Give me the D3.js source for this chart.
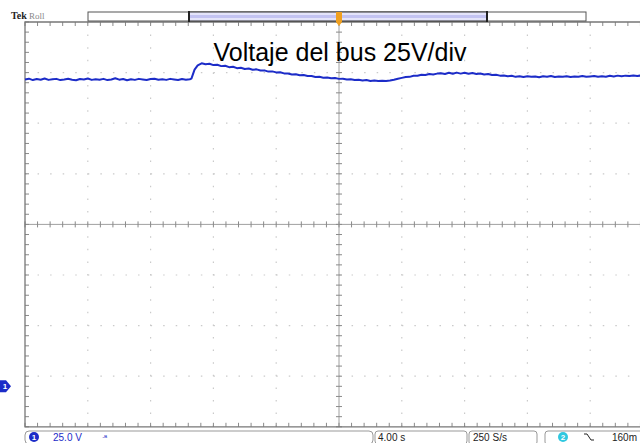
<!DOCTYPE html>
<html>
<head>
<meta charset="utf-8">
<script src="https://cdn.jsdelivr.net/npm/d3@7"></script>
<style>
body{margin:0;background:#fff;}
svg{display:block;}
.lbl{font-family:"Liberation Sans",Arial,sans-serif;}
</style>
</head>
<body>
<svg id="scope" width="640" height="443"></svg>
<script>
// datos (tiempo en s, voltaje en V)
var times = [
	0,0.25,0.5,0.75, 1,1.25,1.5,1.75, 2,2.25,2.5,2.75, 3,3.25,3.5,3.75, 4,4.25,4.5,4.75,
	5,5.25,5.5,5.75, 6,6.25,6.5,6.75, 7,7.25,7.5,7.75, 8,8.25,8.5,8.75, 9,9.25,9.5,9.75,
	10,10.25,10.5, 10.6,10.8,11,
	11.25,11.5,11.75, 12,12.25,12.5,12.75, 13,13.25,13.5,13.75, 14,14.25,14.5,14.75,
	15,15.25,15.5,15.75, 16,16.25,16.5,16.75, 17,17.25,17.5,17.75, 18,18.25,18.5,18.75,
	19,19.25,19.5,19.75, 20,20.25,20.5,20.75, 21,21.25,21.5,21.75, 22,22.25,22.5,22.75,
	23,23.25,23.5,23.75, 24,24.25,24.5,24.75, 25,25.25,25.5,25.75, 26,26.25,26.5,26.75,
	27,27.25,27.5,27.75, 28,28.25,28.5,28.75, 29,29.25,29.5,29.75, 30,30.25,30.5,30.75,
	31,31.25,31.5,31.75, 32,32.25,32.5,32.75, 33,33.25,33.5,33.75, 34,34.25,34.5,34.75,
	35,35.25,35.5,35.75, 36,36.25,36.5,36.75, 37,37.25,37.5,37.75, 38,38.25,38.5,38.75,
	39,39.25,39.5,39.75, 40];
var volts = [
	151.6,152.0,151.3,151.8, 151.5,152.1,151.4,151.7, 151.9,151.3,151.6,152.0, 151.5,151.2,151.8,151.6, 152.1,151.4,151.7,151.5,
	151.9,151.3,151.6,152.2, 151.5,151.8,151.2,151.7, 151.4,151.9,151.6,151.3, 151.8,152.0,151.5,151.7, 151.4,151.9,151.6,151.3,
	151.8,151.5,151.7, 152.0,156.5,158.6,
	159.6,159.1,159.4, 158.7,158.9,158.2,158.4, 157.7,157.9,157.2,157.4, 156.8,157.0,156.4,156.6,
	156.0,156.1,155.5,155.6, 155.1,155.2,154.6,154.6, 154.1,154.2,153.7,153.8, 153.3,153.3,152.8,152.9,
	152.5,152.6,152.2,152.3, 151.9,152.0,151.6,151.7, 151.3,151.5,151.1,151.3, 150.9,151.1,150.8,151.0,
	150.9,151.1,151.5,152.0, 152.4,152.8,152.9,153.4, 153.4,153.9,153.8,154.3, 154.1,154.5,154.7,154.3,
	154.9,154.4,155.0,154.5, 154.9,154.4,154.8,154.3, 154.6,154.1,154.3,153.8, 153.9,153.5,153.6,153.2,
	153.4,152.9,153.2,152.8, 153.2,152.9,153.1,152.7, 153.2,152.9,153.3,152.8, 153.1,152.9,153.2,152.8,
	153.1,152.9,153.3,152.9, 153.1,153.3,152.9,153.2, 153.0,153.4,153.1,153.5, 153.2,153.5,153.3,153.6,
	153.3,153.6,153.4,153.6, 153.4];
var title = "Voltaje del bus 25V/div";
var ch1Scale = "25.0 V";
var timeDiv = "4.00 s";
var sampleRate = "250 S/s";
var trigLevel = "160m";

var svg = d3.select("#scope");
var gx0 = 25, gy0 = 22, divW = 62.8, divH = 50.6;
var nx = 10, ny = 8;
var gx1 = gx0 + nx*divW, gy1 = gy0 + ny*divH;
var cx = gx0 + 5*divW, cy = gy0 + 4*divH;
var blue = "#1c2cc8";

var x = d3.scaleLinear().domain([0,40]).range([gx0,gx1]);
var y = d3.scaleLinear().domain([-20,180]).range([gy1,gy0]);

// rejilla punteada
var grid = svg.append("g");
d3.range(1,nx).forEach(function(i){
	if(i==5) return;
	grid.append("line").attr("x1",gx0+i*divW).attr("x2",gx0+i*divW).attr("y1",gy0).attr("y2",gy1)
	.attr("stroke","#cacaca").attr("stroke-width",1.2).attr("stroke-dasharray","1.5,11.1");
});
d3.range(1,ny).forEach(function(i){
	if(i==4) return;
	grid.append("line").attr("x1",gx0).attr("x2",gx1).attr("y1",gy0+i*divH).attr("y2",gy0+i*divH)
	.attr("stroke","#cacaca").attr("stroke-width",1.2).attr("stroke-dasharray","1.5,11.06");
});

// ejes centrales con marcas
grid.append("line").attr("x1",gx0).attr("x2",gx1).attr("y1",cy).attr("y2",cy).attr("stroke","#a0a0a0");
grid.append("line").attr("x1",cx).attr("x2",cx).attr("y1",gy0).attr("y2",gy1).attr("stroke","#a0a0a0");
d3.range(0,nx*5+1).forEach(function(i){
	var xx = gx0 + i*divW/5;
	grid.append("line").attr("x1",xx).attr("x2",xx).attr("y1",cy-3).attr("y2",cy+3).attr("stroke","#8a8a8a");
	grid.append("line").attr("x1",xx).attr("x2",xx).attr("y1",gy0).attr("y2",gy0+4).attr("stroke","#8a8a8a");
	grid.append("line").attr("x1",xx).attr("x2",xx).attr("y1",gy1-4).attr("y2",gy1).attr("stroke","#8a8a8a");
});
d3.range(0,ny*5+1).forEach(function(i){
	var yy = gy0 + i*divH/5;
	grid.append("line").attr("x1",cx-3).attr("x2",cx+3).attr("y1",yy).attr("y2",yy).attr("stroke","#8a8a8a");
	grid.append("line").attr("x1",gx0).attr("x2",gx0+4).attr("y1",yy).attr("y2",yy).attr("stroke","#8a8a8a");
});
// borde
grid.append("path").attr("d","M"+gx1+","+gy0+"H"+gx0+"V"+gy1+"H"+gx1)
	.attr("fill","none").attr("stroke","#777").attr("stroke-width",1.3);

// senal
var line = d3.line().x(function(d,i){return x(times[i]);}).y(function(d){return y(d);});
svg.append("path").attr("d",line(volts)).attr("fill","none").attr("stroke",blue)
	.attr("stroke-width",2).attr("stroke-linejoin","round");

// marcador de tierra ch1
var gy = y(0);
svg.append("path").attr("d","M0,"+(gy-6)+"H6L11,"+gy+"L6,"+(gy+6)+"H0Z").attr("fill",blue);
svg.append("text").attr("class","lbl").attr("x",5).attr("y",gy+3).attr("text-anchor","middle")
	.attr("font-size",8).attr("font-weight","bold").attr("fill","#fff").text("1");

// cabecera
svg.append("text").attr("x",11).attr("y",19).attr("font-family","Liberation Serif,serif")
	.attr("font-weight","bold").attr("font-size",10).attr("fill","#222").text("Tek");
svg.append("text").attr("x",29).attr("y",19).attr("font-family","Liberation Serif,serif")
	.attr("font-size",9).attr("fill","#888").text("Roll");
svg.append("rect").attr("x",88).attr("y",12).attr("width",498).attr("height",9)
	.attr("fill","#fff").attr("stroke","#555").attr("stroke-width",1);
svg.append("rect").attr("x",189).attr("y",12).attr("width",298).attr("height",9)
	.attr("fill","#e4e4fa").attr("stroke","#333").attr("stroke-width",1);
svg.append("rect").attr("x",190).attr("y",15).attr("width",296).attr("height",3).attr("fill","#c3c3f2");
svg.append("line").attr("x1",189).attr("x2",189).attr("y1",11).attr("y2",22).attr("stroke","#222").attr("stroke-width",2);
svg.append("line").attr("x1",487).attr("x2",487).attr("y1",11).attr("y2",22).attr("stroke","#222").attr("stroke-width",2);
svg.append("path").attr("d","M"+(cx-3)+",12H"+(cx+3)+"V22L"+cx+",26L"+(cx-3)+",22Z").attr("fill","#f0a020");

// titulo
svg.append("text").attr("class","lbl").attr("x",340).attr("y",61).attr("text-anchor","middle")
	.attr("font-size",25).attr("fill","#000").text(title);

// barra inferior
var bar = svg.append("g").attr("class","lbl").attr("font-size",10);
bar.append("rect").attr("x",25).attr("y",431).attr("width",348).attr("height",13).attr("rx",4)
	.attr("fill","#fff").attr("stroke","#999");
bar.append("circle").attr("cx",34).attr("cy",437).attr("r",5).attr("fill",blue);
bar.append("text").attr("x",34).attr("y",440).attr("text-anchor","middle").attr("fill","#fff").attr("font-size",8).attr("font-weight","bold").text("1");
bar.append("text").attr("x",53).attr("y",441).attr("fill",blue).text(ch1Scale);
bar.append("text").attr("x",102).attr("y",440).attr("fill",blue).attr("font-size",7).text("\u00B7\u1D2E");
bar.append("rect").attr("x",375).attr("y",431).attr("width",92).attr("height",13).attr("rx",3)
	.attr("fill","#fff").attr("stroke","#999");
bar.append("text").attr("x",378).attr("y",441).attr("fill","#222").text(timeDiv);
bar.append("rect").attr("x",469).attr("y",431).attr("width",68).attr("height",14).attr("rx",3)
	.attr("fill","#fff").attr("stroke","#999");
bar.append("text").attr("x",473).attr("y",441).attr("fill","#222").text(sampleRate);
bar.append("rect").attr("x",545).attr("y",431).attr("width",100).attr("height",14).attr("rx",3)
	.attr("fill","#fff").attr("stroke","#999");
bar.append("circle").attr("cx",563).attr("cy",437).attr("r",5).attr("fill","#30c8e0");
bar.append("text").attr("x",563).attr("y",440).attr("text-anchor","middle").attr("fill","#fff").attr("font-size",8).attr("font-weight","bold").text("2");
bar.append("path").attr("d","M584,434H587L591,440H594").attr("fill","none").attr("stroke","#222");
bar.append("text").attr("x",612).attr("y",441).attr("fill","#222").text(trigLevel);
</script>
</body>
</html>
